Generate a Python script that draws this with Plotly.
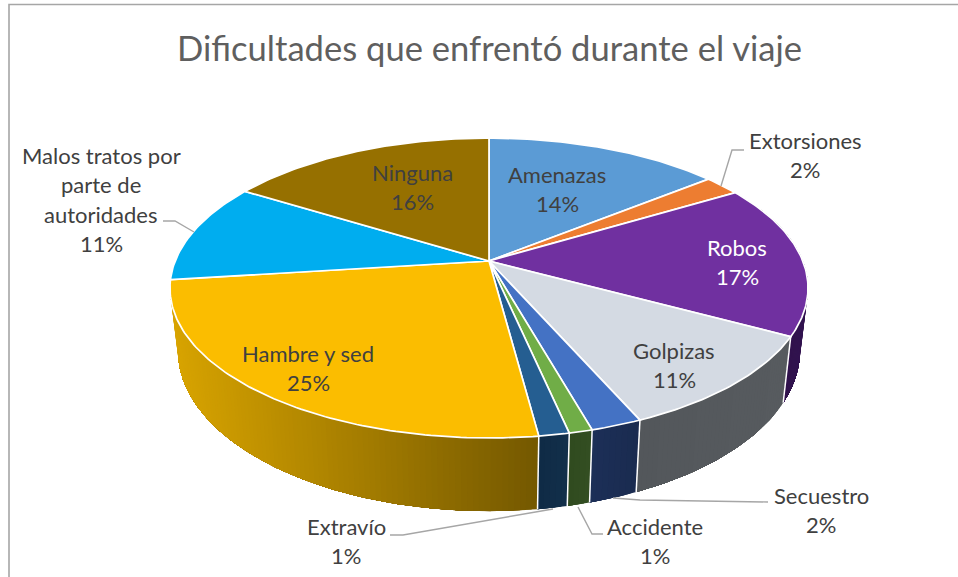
import math

import plotly.graph_objects as go

# Slice shares (the printed labels are these, rounded)
categories = ["Amenazas", "Extorsiones", "Robos", "Golpizas", "Secuestro",
              "Accidente", "Extravío", "Hambre y sed",
              "Malos tratos por parte de autoridades", "Ninguna"]
values = [14.2, 2.2, 16.51, 10.51, 2.2, 1.0, 1.3, 25.08, 10.8, 16.2]
title_text = "Dificultades que enfrentó durante el viaje"

top_colors = ["#5B9BD5", "#ED7D31", "#7030A0", "#D4DAE3", "#4472C4",
              "#70AD47", "#255E91", "#FBBD00", "#00ADEF", "#967000"]
# Side wall shading, left to right; only slices facing the viewer have one
wall_colors = {
    "Robos": ("#2A1040", "#321350"),
    "Golpizas": ("#53575B", "#575B5F"),
    "Secuestro": ("#1C2F57", "#1A2B50"),
    "Accidente": ("#2F4A1E", "#344F22"),
    "Extravío": ("#0F2B45", "#122F4A"),
    "Hambre y sed": ("#D8A400", "#745800"),
}

# Perspective disc on the page, in pixels
CX, CY = 489, 261
RX, RY, TILT = 313.8, 145.1, 0.18
WALL_SX, WALL_SY, WALL_DY = 0.975, 1.07, 60.8
GREY = "#A6A6A6"
TEXT = "#404040"
FONT = "Lato"
LINE_H = 29.6

# Label block centres (first line) and leader lines
label_pos = {
    "Amenazas": (557, 174), "Extorsiones": (805, 140), "Robos": (737, 247),
    "Golpizas": (674, 350), "Secuestro": (821, 495), "Accidente": (655, 526),
    "Extravío": (346, 526), "Hambre y sed": (308, 353),
    "Malos tratos por parte de autoridades": (101, 155), "Ninguna": (412, 172),
}
label_lines = {"Malos tratos por parte de autoridades":
               ["Malos tratos por", "parte de", "autoridades"]}
leaders = [
    ([163, 175, 194], [221, 221, 232]),
    ([744, 732, 721], [150, 150, 186]),
    ([613, 640, 768], [498, 500, 502]),
    ([578, 592, 603], [507, 534, 534]),
    ([390, 403, 553], [535, 535, 509]),
]


def rim(share):
    """Page position of a point on the top rim, share in % clockwise from 12 o'clock."""
    a = math.radians(share * 3.6)
    u, v = math.sin(a), math.cos(a)
    w = 1 + TILT * v
    return RX * u / w, -RY * v / w


def top_pt(share):
    dx, dy = rim(share)
    return CX + dx, CY + dy


def bottom_pt(share):
    dx, dy = rim(share)
    return CX + WALL_SX * dx, CY + WALL_DY + WALL_SY * dy


def shares(a, b, n):
    return [a + (b - a) * i / n for i in range(n + 1)]


def mix(c1, c2, t):
    p = [int(c1[i:i + 2], 16) for i in (1, 3, 5)]
    q = [int(c2[i:i + 2], 16) for i in (1, 3, 5)]
    return "rgb(%d,%d,%d)" % tuple(round(x + (y - x) * t) for x, y in zip(p, q))


def add_poly(fig, xs, ys, fill, line_color, line_width):
    fig.add_trace(go.Scatter(
        x=xs, y=ys, mode="lines", fill="toself", fillcolor=fill,
        line=dict(color=line_color, width=line_width),
        hoverinfo="skip", showlegend=False,
    ))


starts = [sum(values[:i]) for i in range(len(values))]
fig = go.Figure()

# walls: each band runs to the slice's left end and is painted over by the
# next one, that keeps the gradient free of seams
for name, start, val in reversed(list(zip(categories, starts, values))):
    if name not in wall_colors:
        continue
    c1, c2 = wall_colors[name]
    n = max(4, int(val * 4))
    steps = shares(start, start + val, n)
    x_all = [top_pt(s)[0] for s in steps]
    x_min, x_max = min(x_all), max(x_all)
    end = start + val
    for s0, s1 in zip(steps[:-1], steps[1:]):
        band = shares(s0, end, max(2, int((end - s0) * 4)))
        tops = [top_pt(s) for s in band]
        bots = [bottom_pt(s) for s in reversed(band)]
        xs = [p[0] for p in tops + bots] + [tops[0][0]]
        ys = [p[1] for p in tops + bots] + [tops[0][1]]
        mid = (top_pt(s0)[0] + top_pt(s1)[0]) / 2
        col = mix(c1, c2, (mid - x_min) / (x_max - x_min))
        add_poly(fig, xs, ys, col, "rgba(0,0,0,0)", 0)

# white seams between the walls
for name, start, val in zip(categories, starts, values):
    if name in wall_colors and name != "Robos":
        t, b = top_pt(start), bottom_pt(start)
        fig.add_trace(go.Scatter(x=[t[0], b[0]], y=[t[1], b[1]], mode="lines",
                                 line=dict(color="white", width=1.5),
                                 hoverinfo="skip", showlegend=False))

# top face
for name, start, val, col in zip(categories, starts, values, top_colors):
    pts = [top_pt(s) for s in shares(start, start + val, max(6, int(val * 4)))]
    xs = [CX] + [p[0] for p in pts] + [CX]
    ys = [CY] + [p[1] for p in pts] + [CY]
    add_poly(fig, xs, ys, col, "white", 1.7)

for lx, ly in leaders:
    fig.add_trace(go.Scatter(x=lx, y=ly, mode="lines",
                             line=dict(color=GREY, width=1.4),
                             hoverinfo="skip", showlegend=False))

# data labels
for name, val in zip(categories, values):
    lines = label_lines.get(name, [name]) + [f"{round(val)}%"]
    px, py = label_pos[name]
    for i, line in enumerate(lines):
        fig.add_annotation(
            x=px, y=py + i * LINE_H, text=line, showarrow=False,
            xanchor="center", yanchor="middle",
            font=dict(family=FONT, size=22, color="white" if name == "Robos" else TEXT),
        )

fig.add_annotation(x=489, y=47, text=title_text, showarrow=False,
                   xanchor="center", yanchor="middle",
                   font=dict(family=FONT, size=34.6, color="#5F5F5F"))

fig.add_shape(type="path", path="M 9 577 L 9 4.5 L 958 4.5", layer="below",
              line=dict(color=GREY, width=1.6))

fig.update_xaxes(range=[0, 958], visible=False, fixedrange=True)
fig.update_yaxes(range=[577, 0], visible=False, fixedrange=True)
fig.update_layout(width=958, height=577, margin=dict(l=0, r=0, t=0, b=0),
                  paper_bgcolor="white", plot_bgcolor="white", showlegend=False)

fig.write_html("out.html", post_script="document.body.style.margin='0';",
               config={"displayModeBar": False})
